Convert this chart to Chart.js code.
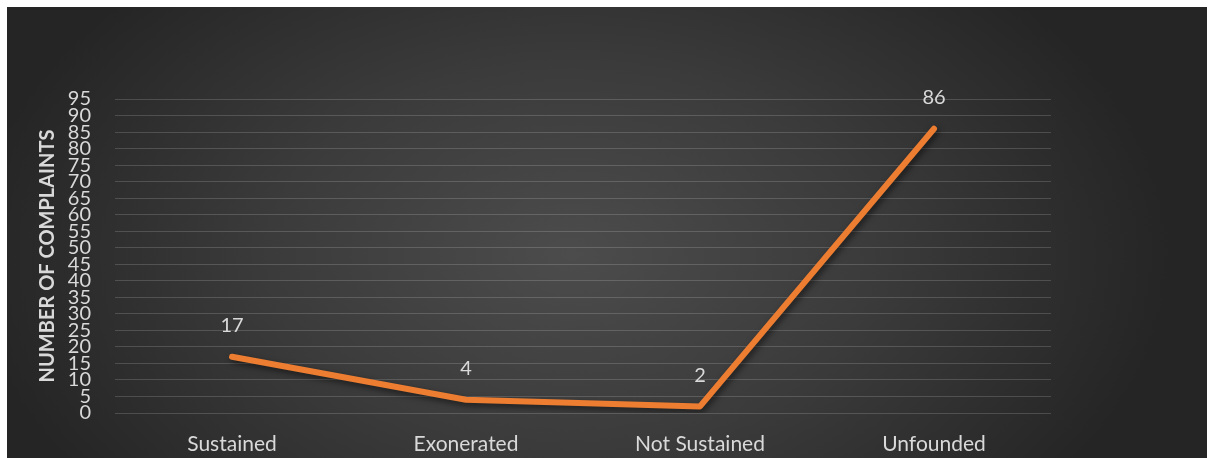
<!DOCTYPE html>
<html>
<head>
<meta charset="utf-8">
<script src="https://cdn.jsdelivr.net/npm/chart.js@4.4.1/dist/chart.umd.min.js"></script>
<style>
  html, body { margin: 0; padding: 0; background: #ffffff; }
  #wrap {
    position: absolute;
    left: 7px;
    top: 7px;
    width: 1200px;
    height: 451px;
    background: radial-gradient(ellipse 50% 85% at 47% 55%, #4c4c4c 0%, #3b3b3b 50%, #252525 100%);
  }
</style>
</head>
<body>
<div id="wrap"><canvas id="chart"></canvas></div>
<script>
//categories and values
const categories = ["Sustained", "Exonerated", "Not Sustained", "Unfounded"];
const complaints = [17, 4, 2, 86];
const yTicks = [0, 5, 10, 15, 20, 25, 30, 35, 40, 45, 50, 55, 60, 65, 70, 75, 80, 85, 90, 95];

const textColor = "#d9d9d9";
const fontName = "Lato, 'Open Sans', sans-serif";

//shadow under the orange line
const lineShadow = {
  id: "lineShadow",
  beforeDatasetDraw(chart) {
    const ctx = chart.ctx;
    ctx.save();
    ctx.shadowColor = "rgba(0,0,0,0.55)";
    ctx.shadowBlur = 6;
    ctx.shadowOffsetX = 2;
    ctx.shadowOffsetY = 3;
  },
  afterDatasetDraw(chart) {
    chart.ctx.restore();
  },
};

//value labels above each point
const valueLabels = {
  id: "valueLabels",
  afterDatasetsDraw(chart) {
    const ctx = chart.ctx;
    const meta = chart.getDatasetMeta(0);
    ctx.save();
    ctx.fillStyle = textColor;
    ctx.font = "20px " + fontName;
    ctx.textAlign = "center";
    ctx.textBaseline = "middle";
    meta.data.forEach((pt, i) => {
      ctx.fillText(String(complaints[i]), pt.x, pt.y - 31);
    });
    ctx.restore();
  },
};

let myChart = new Chart(document.getElementById("chart"), {
  type: "line",
  plugins: [lineShadow, valueLabels],
  data: {
    labels: categories,
    datasets: [
      {
        data: complaints,
        borderColor: "#ed7d31",
        borderWidth: 6,
        borderCapStyle: "round",
        borderJoinStyle: "round",
        pointRadius: 0,
        tension: 0,
      },
    ],
  },
  options: {
    responsive: true,
    maintainAspectRatio: false,
    animation: false,
    layout: { padding: { top: 92, right: 156, left: 0, bottom: 0 } },
    plugins: {
      legend: { display: false },
      tooltip: { enabled: false },
    },
    scales: {
      x: {
        offset: true,
        grid: { display: false, drawTicks: false },
        border: { display: false },
        ticks: {
          color: textColor,
          font: { family: fontName, size: 21 },
          padding: 19,
          maxRotation: 0,
        },
        afterFit(scale) {
          scale.height = 45;
        },
      },
      y: {
        min: 0,
        max: 95,
        afterBuildTicks(scale) {
          scale.ticks = yTicks.map((v) => ({ value: v }));
        },
        grid: { color: "rgba(255,255,255,0.16)", lineWidth: 1, drawTicks: false },
        border: { display: false },
        ticks: {
          color: textColor,
          font: { family: fontName, size: 20, lineHeight: 1 },
          padding: 24,
          autoSkip: false,
        },
        title: {
          display: true,
          text: "NUMBER OF COMPLAINTS",
          color: textColor,
          font: { family: fontName, size: 20, weight: "bold" },
          padding: { top: 29, bottom: 0 },
        },
        afterFit(scale) {
          scale.width = 108;
        },
      },
    },
  },
});
</script>
</body>
</html>
